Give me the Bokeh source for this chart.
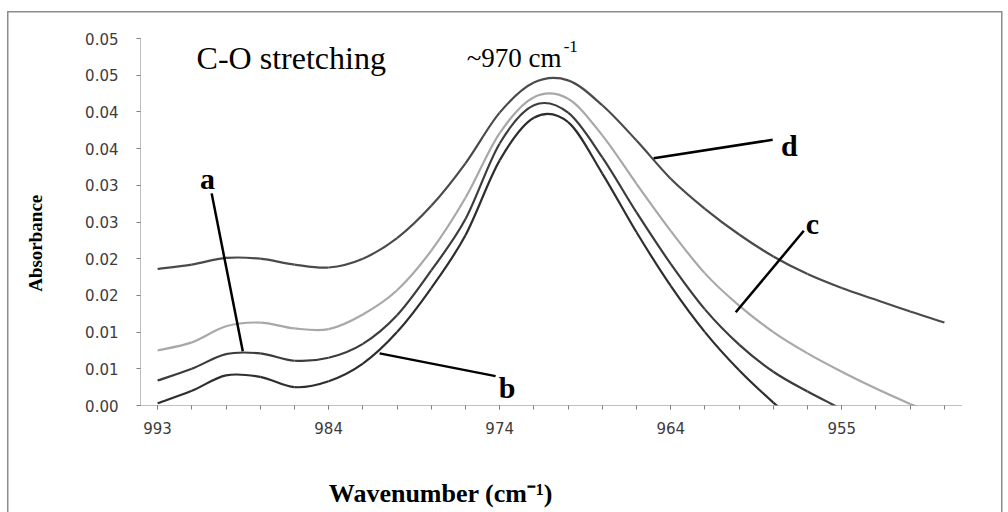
import math
from bokeh.plotting import figure
from bokeh.models import Range1d, FixedTicker, CustomJSTickFormatter, Label
from bokeh.embed import file_html
from bokeh.resources import INLINE

# ---- data ----
x_idx = list(range(24))                      # category positions (one per data point)
x_tick_pos = [0, 5, 10, 15, 20]
x_tick_labels = ["993", "984", "974", "964", "955"]

y_ticks = [0.0, 0.005, 0.010, 0.015, 0.020, 0.025, 0.030, 0.035, 0.040, 0.045, 0.050]
y_tick_labels = ["0.00", "0.01", "0.01", "0.02", "0.02", "0.03", "0.03", "0.04", "0.04", "0.05", "0.05"]

curve_d = [0.0186, 0.0192, 0.0201, 0.0200, 0.0192, 0.0188, 0.0200, 0.0228, 0.0272, 0.0330,
           0.0399, 0.0440, 0.0443, 0.0409, 0.0361, 0.0309, 0.0268, 0.0233, 0.0203, 0.0179,
           0.0160, 0.0144, 0.0128, 0.0113]
curve_c = [0.0075, 0.0086, 0.0108, 0.0113, 0.0105, 0.0104, 0.0124, 0.0157, 0.0211, 0.0283,
           0.0371, 0.0420, 0.0418, 0.0368, 0.0302, 0.0238, 0.0180, 0.0136, 0.0100, 0.0071,
           0.0046, 0.0023, 0.0002, -0.0018]
curve_a = [0.0034, 0.0050, 0.0070, 0.0071, 0.0061, 0.0065, 0.0084, 0.0123, 0.0184, 0.0254,
           0.0357, 0.0409, 0.0399, 0.0338, 0.0263, 0.0193, 0.0131, 0.0083, 0.0046, 0.0019,
           -0.0005, -0.0030, -0.0055, -0.0080]
curve_b = [0.0003, 0.0020, 0.0041, 0.0039, 0.0025, 0.0033, 0.0057, 0.0100, 0.0160, 0.0232,
           0.0334, 0.0392, 0.0386, 0.0316, 0.0236, 0.0163, 0.0100, 0.0048, 0.0004, -0.0035,
           -0.0070, -0.0100, -0.0130, -0.0160]

series_names = ["a", "b", "c", "d"]

# ---- figure ----
p = figure(width=1008, height=512, output_backend="svg", toolbar_location=None,
           x_range=Range1d(-0.5, 23.5), y_range=Range1d(0, 0.05),
           min_border_left=140, min_border_right=47, min_border_top=38, min_border_bottom=107)
p.background_fill_color = "white"
p.border_fill_color = None
p.outline_line_color = None
p.xgrid.grid_line_color = None
p.ygrid.grid_line_color = None
# thin grey chart-area border (left, top, right), like the spreadsheet chart frame
g = "linear-gradient(#8c8c8c, #8c8c8c)"
p.styles = {
    "background": (f"{g} 7px 11px / 1.5px 501px no-repeat, "
                   f"{g} 7px 11px / 995px 1.5px no-repeat, "
                   f"{g} 1001px 11px / 1.5px 501px no-repeat, white"),
}

axis_col = "#7f7f7f"
for ax in (p.xaxis[0], p.yaxis[0]):
    ax.axis_line_color = axis_col
    ax.axis_line_dash = "1 1"
    ax.axis_line_width = 1
    ax.major_tick_line_color = axis_col
    ax.major_tick_in = 0
    ax.major_tick_out = 4
    ax.major_label_text_font = "DejaVu Sans"
    ax.major_label_text_font_size = "15px"
    ax.major_label_text_color = "#3c3c3c"

p.xaxis.ticker = FixedTicker(ticks=x_tick_pos, minor_ticks=x_idx)
p.xaxis.minor_tick_line_color = axis_col
p.xaxis.minor_tick_in = 0
p.xaxis.minor_tick_out = 4
p.xaxis.major_label_standoff = 12
p.xaxis.formatter = CustomJSTickFormatter(
    args=dict(pos=x_tick_pos, labels=x_tick_labels),
    code="const i = pos.findIndex(t => Math.abs(t - tick) < 1e-6); return i >= 0 ? labels[i] : '';")

p.yaxis.ticker = FixedTicker(ticks=y_ticks)
p.yaxis.minor_tick_line_color = None
p.yaxis.major_label_standoff = 18
p.yaxis.formatter = CustomJSTickFormatter(
    args=dict(pos=y_ticks, labels=y_tick_labels),
    code="const i = pos.findIndex(t => Math.abs(t - tick) < 1e-9); return i >= 0 ? labels[i] : '';")


# ---- curves: smoothed (spreadsheet-style Bezier) through the read points ----
def smooth_segments(xs, ys):
    n = len(xs)
    x0, y0, x1, y1, cx0, cy0, cx1, cy1 = ([] for _ in range(8))
    for i in range(n - 1):
        xm, ym = (xs[i - 1], ys[i - 1]) if i > 0 else (xs[i], ys[i])
        xp, yp = (xs[i + 2], ys[i + 2]) if i + 2 < n else (xs[i + 1], ys[i + 1])
        x0.append(xs[i]); y0.append(ys[i])
        x1.append(xs[i + 1]); y1.append(ys[i + 1])
        cx0.append(xs[i] + (xs[i + 1] - xm) / 6.0)
        cy0.append(ys[i] + (ys[i + 1] - ym) / 6.0)
        cx1.append(xs[i + 1] - (xp - xs[i]) / 6.0)
        cy1.append(ys[i + 1] - (yp - ys[i]) / 6.0)
    return dict(x0=x0, y0=y0, x1=x1, y1=y1, cx0=cx0, cy0=cy0, cx1=cx1, cy1=cy1)


for ys, col in ((curve_c, "#a8a8a8"), (curve_d, "#4a4a4a"),
                (curve_a, "#3c3c3c"), (curve_b, "#2e2e2e")):
    p.bezier(source=smooth_segments(x_idx, ys), x0="x0", y0="y0", x1="x1", y1="y1",
             cx0="cx0", cy0="cy0", cx1="cx1", cy1="cy1", line_color=col, line_width=2.2)

# ---- pointer lines (annotation positions, data coords) ----
ptr_x0 = [1.58, 6.49, 16.90, 14.50]
ptr_y0 = [0.0289, 0.0071, 0.0127, 0.0337]
ptr_x1 = [2.49, 9.88, 18.89, 17.98]
ptr_y1 = [0.0074, 0.0040, 0.0238, 0.0362]
p.segment(ptr_x0, ptr_y0, ptr_x1, ptr_y1, line_color="black", line_width=2.5)

serif = "Liberation Serif"
lab_pos = {"a": (1.46, 0.0309, "center"), "b": (9.97, 0.00245, "left"),
           "c": (18.95, 0.0248, "left"), "d": (18.22, 0.0354, "left")}
for name in series_names:
    lx, ly, al = lab_pos[name]
    p.add_layout(Label(x=lx, y=ly, text=name, text_font=serif, text_font_size="30px",
                       text_font_style="bold", text_align=al, text_baseline="alphabetic",
                       text_color="black"))

# ---- in-plot titles ----
p.add_layout(Label(x=1.14, y=0.04728, text="C-O stretching", text_font=serif,
                   text_font_size="32px", text_align="left", text_baseline="alphabetic",
                   text_color="black"))
p.add_layout(Label(x=11.81, y=0.04728, text="~970 cm", text_font=serif,
                   text_font_size="27px", text_align="right", text_baseline="alphabetic",
                   text_color="black"))
p.add_layout(Label(x=11.87, y=0.0489, text="-1", text_font=serif,
                   text_font_size="17px", text_align="left", text_baseline="alphabetic",
                   text_color="black"))

# ---- axis titles (placed in the side panels) ----
p.add_layout(Label(x=-3.57, y=0.0221, text="Absorbance", text_font=serif,
                   text_font_size="19px", text_font_style="bold", text_color="black",
                   angle=math.pi / 2, text_align="center", text_baseline="middle"), "left")
p.add_layout(Label(x=8.28, y=-0.0120, text="Wavenumber (cm\u207b\u00b9)", text_font=serif,
                   text_font_size="26px", text_font_style="bold", text_color="black",
                   text_align="center", text_baseline="middle"), "below")

open("out.html", "w").write(file_html(p, INLINE))
